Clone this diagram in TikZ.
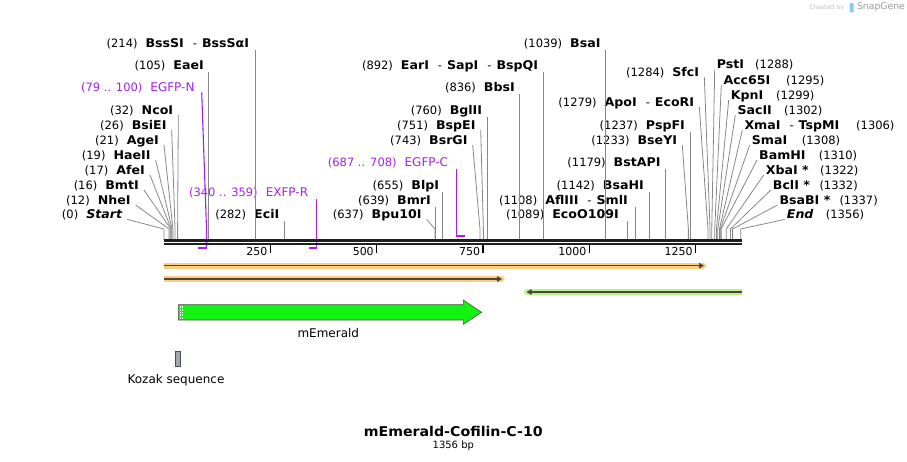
\documentclass[tikz,border=0pt]{standalone}
\usepackage{fontspec}
\setmainfont{DejaVu Sans}
\newfontfamily\enzfont{DejaVu Sans}[FakeStretch=1.05]
\usetikzlibrary{calc,arrows.meta,positioning}

\definecolor{sitegray}{RGB}{135,135,135}
\definecolor{primer}{RGB}{160,32,240}
\definecolor{orfband}{RGB}{250,205,130}
\definecolor{orfgreen}{RGB}{188,242,140}
\definecolor{orfline}{RGB}{75,72,58}
\definecolor{emerald}{RGB}{20,242,20}
\definecolor{kozak}{RGB}{162,166,175}
\definecolor{edge}{RGB}{80,80,80}
\definecolor{logoblue}{RGB}{140,200,240}

\newcommand{\nm}[1]{{\fontsize{11.5}{13}\selectfont(#1)}}
\newcommand{\ez}[1]{{\enzfont\bfseries\fontsize{12}{14}\selectfont #1}}
\newcommand{\ezit}[1]{{\enzfont\bfseries\itshape\fontsize{12}{14}\selectfont #1}}
\newcommand{\ezsep}{{\fontsize{11.5}{13}\selectfont\hspace{9pt}-\hspace{5pt}}}

\begin{document}
\begin{tikzpicture}[x=1pt,y=-1pt,
    tag/.style={inner sep=0pt, text height=8.7pt, text depth=2.5pt, anchor=base east},
    rtag/.style={tag, anchor=base west},
    site/.style={draw=sitegray, line width=0.8pt},
    axis/.style={draw=black!88, line width=2.5pt},
    bar/.style={draw=primer, line width=2pt},
    prline/.style={draw=primer, line width=1.1pt}]

\useasboundingbox (0,0) rectangle (907,462);

% cut sites on the sequence
\foreach \b in {0,12,16,17,19,21,26,32,105,214,282,637,639,655,743,751,760,836,892,
    1039,1089,1108,1142,1179,1233,1237,1279,1284,1288,1295,1299,1302,1306,1308,
    1310,1322,1332,1337,1356}
    \coordinate (s\b) at ({164+0.4253*\b},240);

% left column
\node[tag] (start) at (122.3,218.7) {\nm{0}\hspace{8pt}\ezit{Start}};
\node[tag] (nhe) at (130.7,204.4) {\nm{12}\hspace{8pt}\ez{NheI}};
\node[tag] (bmt) at (139,189.4) {\nm{16}\hspace{8pt}\ez{BmtI}};
\node[tag] (afe) at (145,174.4) {\nm{17}\hspace{8pt}\ez{AfeI}};
\node[tag] (hae) at (150.7,159.4) {\nm{19}\hspace{8pt}\ez{HaeII}};
\node[tag] (age) at (159,144.4) {\nm{21}\hspace{8pt}\ez{AgeI}};
\node[tag] (bsie) at (166.7,129.4) {\nm{26}\hspace{8pt}\ez{BsiEI}};
\node[tag] (nco) at (173.3,114.4) {\nm{32}\hspace{8pt}\ez{NcoI}};
\node[tag, text=primer] (egfpn) at (194.7,91.7) {\nm{79 .. 100}\hspace{8pt}{\fontsize{12}{14}\selectfont EGFP-N}};
\node[tag] (eae) at (204,69.1) {\nm{105}\hspace{8pt}\ez{EaeI}};
\node[tag] (bss) at (249.3,47.1) {\nm{214}\hspace{8pt}\ez{BssSI}\ezsep\ez{BssSαI}};

% middle
\node[tag] (eci) at (279.5,218.7) {\nm{282}\hspace{8pt}\ez{EciI}};
\node[tag, text=primer] (exfpr) at (308.3,196.7) {\nm{340 .. 359}\hspace{8pt}{\fontsize{12}{14}\selectfont EXFP-R}};
\node[tag] (bpu) at (421.7,218.7) {\nm{637}\hspace{8pt}\ez{Bpu10I}};
\node[tag] (bmr) at (431,204.4) {\nm{639}\hspace{8pt}\ez{BmrI}};
\node[tag] (blp) at (439.3,189.4) {\nm{655}\hspace{8pt}\ez{BlpI}};
\node[tag, text=primer] (egfpc) at (448.3,166.7) {\nm{687 .. 708}\hspace{8pt}{\fontsize{12}{14}\selectfont EGFP-C}};
\node[tag] (bsrg) at (467.7,144.4) {\nm{743}\hspace{8pt}\ez{BsrGI}};
\node[tag] (bspe) at (475.7,129.4) {\nm{751}\hspace{8pt}\ez{BspEI}};
\node[tag] (bgl) at (482.3,114.4) {\nm{760}\hspace{8pt}\ez{BglII}};
\node[tag] (bbs) at (515,91.7) {\nm{836}\hspace{8pt}\ez{BbsI}};
\node[tag] (ear) at (538.3,69.1) {\nm{892}\hspace{8pt}\ez{EarI}\ezsep\ez{SapI}\ezsep\ez{BspQI}};
\node[tag] (bsa) at (600.7,47.1) {\nm{1039}\hspace{8pt}\ez{BsaI}};
\node[tag] (eco) at (619,218.7) {\nm{1089}\hspace{8pt}\ez{EcoO109I}};
\node[tag] (afl) at (628,204.4) {\nm{1108}\hspace{8pt}\ez{AflIII}\ezsep\ez{SmlI}};
\node[tag] (bsah) at (644,189.4) {\nm{1142}\hspace{8pt}\ez{BsaHI}};
\node[tag] (bstap) at (660.7,166.7) {\nm{1179}\hspace{8pt}\ez{BstAPI}};
\node[tag] (bsey) at (677.3,144.4) {\nm{1233}\hspace{8pt}\ez{BseYI}};
\node[tag] (pspf) at (685,129.4) {\nm{1237}\hspace{8pt}\ez{PspFI}};
\node[tag] (apo) at (694.3,106.1) {\nm{1279}\hspace{8pt}\ez{ApoI}\ezsep\ez{EcoRI}};
\node[tag] (sfc) at (699.3,76.1) {\nm{1284}\hspace{8pt}\ez{SfcI}};

% right column
\node[rtag] (pst) at (716.7,68.7) {\makebox[38.3pt][l]{\ez{PstI}}\nm{1288}};
\node[rtag] (acc) at (723.3,84.4) {\makebox[62.7pt][l]{\ez{Acc65I}}\nm{1295}};
\node[rtag] (kpn) at (730.7,99.4) {\makebox[45.3pt][l]{\ez{KpnI}}\nm{1299}};
\node[rtag] (sac) at (737.3,114.4) {\makebox[46.7pt][l]{\ez{SacII}}\nm{1302}};
\node[rtag] (xma) at (744.3,129.4) {\makebox[111.7pt][l]{\ez{XmaI}\ezsep\ez{TspMI}}\nm{1306}};
\node[rtag] (sma) at (751.7,144.4) {\makebox[50pt][l]{\ez{SmaI}}\nm{1308}};
\node[rtag] (bam) at (759,159.4) {\makebox[59.7pt][l]{\ez{BamHI}}\nm{1310}};
\node[rtag] (xba) at (765.7,174.4) {\makebox[54.3pt][l]{\ez{XbaI *}}\nm{1322}};
\node[rtag] (bcl) at (772.7,189.4) {\makebox[46.6pt][l]{\ez{BclI *}}\nm{1332}};
\node[rtag] (bsab) at (779.3,204.4) {\makebox[60pt][l]{\ez{BsaBI *}}\nm{1337}};
\node[rtag] (endn) at (786.7,218.7) {\makebox[39pt][l]{\ezit{End}}\nm{1356}};

% site lines
\foreach \b/\lb in {214/bss,105/eae,282/eci,639/bmr,655/blp,760/bgl,836/bbs,892/ear,
    1039/bsa,1089/eco,1108/afl,1142/bsah,1179/bstap,1237/pspf}
    \draw[site] (s\b) -- (s\b |- \lb.south);

\foreach \b/\lb in {0/start,12/nhe,16/bmt,17/afe,19/hae,21/age,26/bsie,32/nco,
    637/bpu,743/bsrg,751/bspe,1233/bsey,1279/apo,1284/sfc}
    \draw[site] (s\b) -- ++(0,-11) -- ($(\lb.south east)+(5,-2)$);

\foreach \b/\lb in {1288/pst,1295/acc,1299/kpn,1302/sac,1306/xma,1308/sma,1310/bam,
    1322/xba,1332/bcl,1337/bsab,1356/endn}
    \draw[site] (s\b) -- ++(0,-11) -- ($(\lb.south west)+(-2,-2)$);

% primers
\coordinate (p79) at ({164+0.4253*79},248.3);
\coordinate (p100) at ({164+0.4253*100},248.3);
\coordinate (p340) at ({164+0.4253*340},248.3);
\coordinate (p359) at ({164+0.4253*359},248.3);
\coordinate (p687) at ({164+0.4253*687},235.7);
\coordinate (p708) at ({164+0.4253*708},235.7);

\draw[prline] (p100) -- ++(0,-19) -- ($(egfpn.south east)+(7,-2)$);
\draw[prline] (p359) -- (p359 |- exfpr.south);
\draw[prline] (p687) -- (p687 |- egfpc.south);
\draw[bar] (p79) -- (p100);
\draw[bar] (p340) -- (p359);
\draw[bar] (p687) -- (p708);

% sequence line and ruler
\draw[axis] (164,240.7) -- (742,240.7);
\draw[axis, line width=2.3pt] (164,244.3) -- (742,244.3);

\foreach \t in {250,500,750,1000,1250} {
    \coordinate (k\t) at ({164+0.4253*\t},245.5);
    \draw[line width=1.3pt] (k\t) -- ++(0,8);
    \node[anchor=base east, inner sep=0pt, font=\fontsize{11}{13}\selectfont] (kl\t) at ($(k\t)+(-2.7,9.5)$) {\t};
}

% open reading frames
\draw[orfband, line width=6pt, -{Triangle[length=4pt,width=7pt]}] (164,265.7) -- (707,265.7);
\draw[orfline, line width=1.6pt, -{Triangle[length=5pt,width=5.5pt]}] (164,265.7) -- (704,265.7);
\draw[orfband, line width=6pt, -{Triangle[length=4pt,width=7pt]}] (164,279) -- (505,279);
\draw[orfline, line width=1.6pt, -{Triangle[length=5pt,width=5.5pt]}] (164,279) -- (502,279);
\draw[orfgreen, line width=6pt, -{Triangle[length=4pt,width=7pt]}] (742,292) -- (523.5,292);
\draw[orfline, line width=1.6pt, -{Triangle[length=5pt,width=5.5pt]}] (742,292) -- (526.5,292);

% features
\filldraw[fill=emerald, draw=edge, line width=0.6pt] (178.3,304.7) -- (463.3,304.7) -- (463.3,300)
    -- (481.7,312.3) -- (463.3,324.3) -- (463.3,320) -- (178.3,320) -- cycle;
\draw[white, densely dotted, line width=0.6pt] (180.2,305.6) -- (180.2,319.2);
\draw[white, densely dotted, line width=0.6pt] (182.6,305.6) -- (182.6,319.2);
\node[font=\fontsize{12}{14}\selectfont] (emlbl) at (328.3,333.5) {mEmerald};

\filldraw[fill=kozak, draw=edge, line width=0.6pt] (175.7,351) rectangle (180,366.7);
\node[font=\fontsize{12}{14}\selectfont] (kozlbl) at (176,380) {Kozak sequence};

% title
\node[font=\enzfont\bfseries\fontsize{13.5}{16}\selectfont] (title) at (453.3,431) {mEmerald-Cofilin-C-10};
\node[font=\fontsize{10}{12}\selectfont] (size) at (453.3,446) {1356 bp};

\node[anchor=west, inner sep=0pt, text=black!25, font=\fontsize{6.3}{7}\selectfont] (made) at (809.3,7.5) {Created by};
\fill[logoblue, rounded corners=1pt] (849.5,3) rectangle (853.5,12.5);
\node[anchor=west, inner sep=0pt, text=black!40, font=\fontsize{9.3}{10}\selectfont] (sg) at (856.8,7.5) {SnapGene};

\end{tikzpicture}
\end{document}
